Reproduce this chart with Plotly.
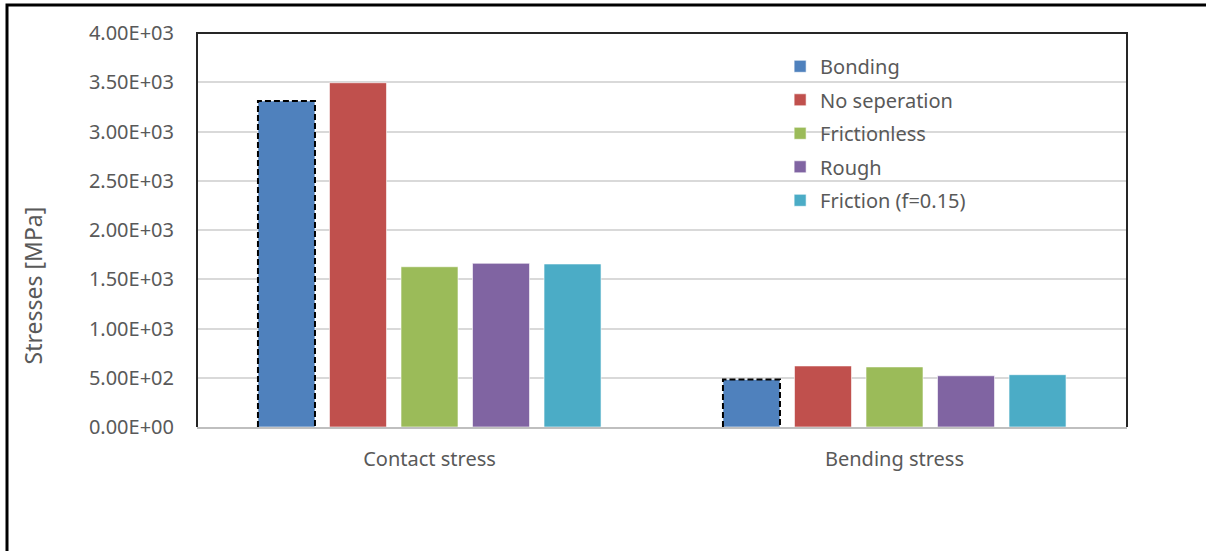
import plotly.graph_objects as go

# Load cases and results
categories = ["Contact stress", "Bending stress"]
series_names = ["Bonding", "No seperation", "Frictionless", "Rough", "Friction (f=0.15)"]
bonding = [3310, 482]
no_separation = [3495, 620]
frictionless = [1627, 610]
rough = [1662, 520]
friction_015 = [1655, 531]
y_tick_values = [0, 500, 1000, 1500, 2000, 2500, 3000, 3500, 4000]
y_tick_labels = ["0.00E+00", "5.00E+02", "1.00E+03", "1.50E+03", "2.00E+03",
                 "2.50E+03", "3.00E+03", "3.50E+03", "4.00E+03"]
y_title = "Stresses [MPa]"

series_values = [bonding, no_separation, frictionless, rough, friction_015]
colors = ["#4f81bd", "#c0504d", "#9bbb59", "#8064a2", "#4bacc6"]

FONT = "Noto Sans"
GREY_TEXT = "#595959"

# bar geometry within each category slot (category width = 1)
slot = 0.1538
bar_w = 0.1226
n = len(series_names)
group_w = slot * n

x_pos = list(range(len(categories)))

fig = go.Figure()
offsets = []
for i, (name, vals, col) in enumerate(zip(series_names, series_values, colors)):
    off = -group_w / 2 + i * slot + (slot - bar_w) / 2
    offsets.append(off)
    fig.add_trace(go.Bar(
        x=x_pos, y=vals, name=name,
        marker=dict(color=col, line=dict(color="rgba(255,255,255,0.6)", width=1)),
        width=bar_w, offset=off,
        legendgroup=name,
    ))

# dashed outline around the Bonding bars
ox, oy = [], []
for xc, v in zip(x_pos, bonding):
    x0 = xc + offsets[0]
    x1 = x0 + bar_w
    ox += [x0, x0, x1, x1, None]
    oy += [0, v, v, 0, None]
fig.add_trace(go.Scatter(
    x=ox, y=oy, mode="lines", showlegend=False, hoverinfo="skip",
    line=dict(color="black", width=2, dash="6px,3px"),
))

fig.update_layout(
    width=1206, height=551,
    margin=dict(l=197, r=79, t=33, b=124),
    paper_bgcolor="white", plot_bgcolor="white",
    barmode="overlay",
    font=dict(family=FONT, color=GREY_TEXT, size=19),
    legend=dict(
        x=0.627, y=0.965, xanchor="left", yanchor="top",
        font=dict(family=FONT, size=20, color=GREY_TEXT),
        tracegroupgap=4.5, itemwidth=30,
        bgcolor="rgba(0,0,0,0)",
    ),
    xaxis=dict(
        range=[-0.5, 1.5], tickvals=x_pos, ticktext=categories,
        showgrid=False, zeroline=False,
        showline=True, linecolor="#bfbfbf", linewidth=1.5,
        ticks="", ticklabelstandoff=13,
        tickfont=dict(family=FONT, size=20, color=GREY_TEXT),
    ),
    yaxis=dict(
        range=[0, 4000], tickvals=y_tick_values, ticktext=y_tick_labels,
        showgrid=True, gridcolor="#d9d9d9", gridwidth=1.5,
        zeroline=False, showline=False, ticks="",
        ticklabelstandoff=22,
        tickfont=dict(family=FONT, size=20, color=GREY_TEXT),
    ),
    annotations=[
        dict(text=y_title, textangle=-90, showarrow=False,
             xref="paper", yref="paper", x=-0.176, y=0.36,
             xanchor="center", yanchor="middle",
             font=dict(family=FONT, size=23, color=GREY_TEXT)),
    ],
    shapes=[
        # plot area frame (left, top, right)
        dict(type="path", xref="paper", yref="paper",
             path="M 0,0 L 0,1 L 1,1 L 1,0",
             line=dict(color="#262626", width=2), layer="above"),
        # outer chart border
        dict(type="rect", xref="paper", yref="paper",
             x0=-0.2043, y0=-0.5, x1=1.2, y1=1.071,
             line=dict(color="black", width=3), layer="above"),
    ],
)

fig.write_html("out.html")
